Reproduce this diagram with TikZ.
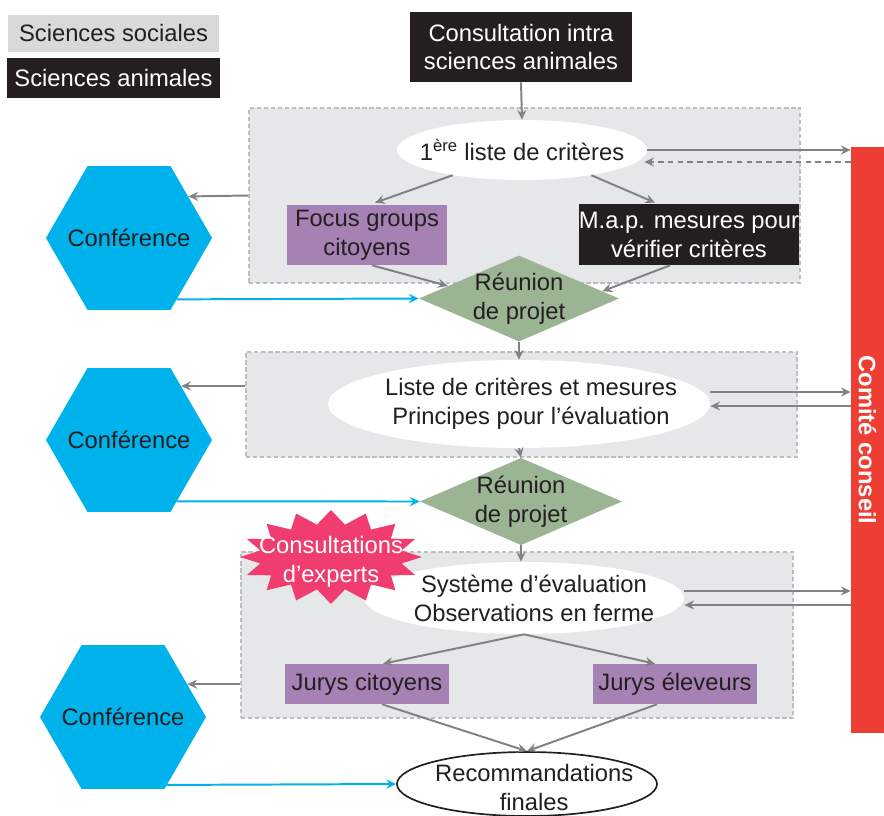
\documentclass[tikz,border=0pt]{standalone}
\usepackage{fontspec}
\setmainfont{Liberation Sans}
\usetikzlibrary{shapes.geometric,arrows.meta,calc}

\definecolor{textc}{HTML}{231F20}
\definecolor{socgray}{HTML}{D9D9DA}
\definecolor{panelfill}{HTML}{E6E7E8}
\definecolor{panelline}{HTML}{BCBEC0}
\definecolor{arrowc}{HTML}{808285}
\definecolor{purplec}{HTML}{A682B4}
\definecolor{greenc}{HTML}{9BB594}
\definecolor{cyanc}{HTML}{00B2EC}
\definecolor{redc}{HTML}{EE3E33}
\definecolor{starc}{HTML}{F03C6E}

\begin{document}
\begin{tikzpicture}[x=0.025cm,y=-0.025cm,
	every node/.style={font=\fontsize{16.9}{20.6}\selectfont, text=textc, align=center, inner sep=0pt},
	panel/.style={draw=panelline, fill=panelfill, line width=1pt, dash pattern=on 3pt off 2pt},
	blackbox/.style={fill=textc, text=white},
	purplebox/.style={fill=purplec},
	bubble/.style={ellipse, fill=white},
	meeting/.style={diamond, fill=greenc},
	conf/.style={regular polygon, regular polygon sides=6, fill=cyanc, minimum size=4.15cm, label={center:Conférence}},
	flow/.style={draw=arrowc, line width=1.4pt, -{Stealth[length=7pt,width=6.5pt,inset=2.5pt]}},
	feed/.style={draw=cyanc, line width=1.4pt, -{Stealth[length=7pt,width=6.5pt,inset=2.5pt]}}]

	\useasboundingbox (0,0) rectangle (884,816);

	% legend
	\node[fill=socgray, minimum width=5.28cm, minimum height=0.93cm] (soc) at (113.5,33.5) {Sciences sociales};
	\node[blackbox, minimum width=5.33cm, minimum height=1cm] (ani) at (113.5,78) {Sciences animales};

	\node[blackbox, minimum width=5.55cm, minimum height=1.75cm] (consult) at (521,47) {Consultation intra\\sciences animales};

	% panels
	\node[panel, minimum width=13.78cm, minimum height=4.38cm] (panelA) at (524.5,195.5) {};
	\node[panel, minimum width=13.78cm, minimum height=2.63cm] (panelB) at (521.5,404.5) {};
	\node[panel, minimum width=13.8cm, minimum height=4.15cm] (panelC) at (517,635) {};

	\node[bubble, minimum width=6.25cm, minimum height=1.5cm, label={center:1\textsuperscript{ère} liste de critères}] (listA) at (522,150) {};
	\node[bubble, minimum width=9.55cm, minimum height=2.2cm, label={[xshift=0.3cm]center:Liste de critères et mesures\\Principes pour l’évaluation}] (listB) at (519,404) {};
	\node[bubble, minimum width=8cm, minimum height=1.8cm, label={[xshift=0.25cm]center:Système d’évaluation\\Observations en ferme}] (listC) at (524,598) {};

	\node[purplebox, minimum width=4cm, minimum height=1.5cm] (focus) at (367,235) {Focus groups\\citoyens};
	\node[blackbox, minimum width=5.4cm, minimum height=1.53cm] (map) at (689,234.5) {M.a.p. mesures pour\\vérifier critères};
	\node[purplebox, minimum width=4.1cm, minimum height=1cm] (jc) at (367,684) {Jurys citoyens};
	\node[purplebox, minimum width=4.1cm, minimum height=1cm] (je) at (675,684) {Jurys éleveurs};

	\node[meeting, minimum width=5cm, minimum height=2.15cm, label={center:Réunion\\de projet}] (meetA) at (519,298.5) {};
	\node[meeting, minimum width=5.05cm, minimum height=2.18cm, label={center:Réunion\\de projet}] (meetB) at (521,501.5) {};

	\node[bubble, draw=textc, line width=1.2pt, minimum width=6.5cm, minimum height=1.6cm, label={[xshift=0.18cm,yshift=-0.08cm]center:Recommandations\\finales}] (reco) at (527,784) {};

	% experts
	\fill[starc, shift={(331,557)}] (0:91 and 47) \foreach \a in {0,22.5,...,337.5} { -- ({\a+11.25}:72 and 33) -- ({\a+22.5}:91 and 47) } -- cycle;
	\node[text=white] (experts) at (331,562) {Consultations\\d’experts};

	\node[fill=redc, text=white, minimum width=0.83cm, minimum height=14.65cm] (comite) at (867.5,440) {\rotatebox{-90}{\bfseries Comité conseil}};

	\node[conf] (confA) at (129,238) {};
	\node[conf] (confB) at (129,440) {};
	\node[conf] (confC) at (123,717) {};

	% main flow
	\draw[flow] (consult.south) -- (listA.north);
	\draw[flow] (listA.200) -- ($(focus.north)+(8,-2)$);
	\draw[flow] (listA.340) -- ($(map.north)+(-34,-1)$);
	\draw[flow] ($(focus.south)+(5,0)$) -- (meetA.170);
	\draw[flow] ($(map.south)+(-19,0)$) -- (meetA.5);
	\draw[flow] (meetA.south) -- (listB.north);
	\draw[flow] (listB.south) -- (meetB.north);
	\draw[flow] (meetB.south) -- (meetB.south |- listC.north);
	\draw[flow] (listC.south) -- ($(jc.north)+(16,0)$);
	\draw[flow] (listC.south) -- ($(je.north)+(-20,0)$);
	\draw[flow] ($(jc.south)+(15,0)$) -- (reco.north);
	\draw[flow] ($(je.south)+(-18,0)$) -- (reco.north);

	% comite conseil
	\coordinate (backA) at ($(listA.east)+(-3,12)$);
	\coordinate (outB) at ($(listB.east)+(0,-12)$);
	\coordinate (backB) at ($(listB.east)+(0,2)$);
	\coordinate (outC) at ($(listC.east)+(0,-7)$);
	\coordinate (backC) at ($(listC.east)+(0,7)$);
	\draw[flow] (listA.east) -- (listA.east -| comite.west);
	\draw[flow, dash pattern=on 4pt off 3pt] (backA -| comite.west) -- (backA);
	\draw[flow] (outB) -- (outB -| comite.west);
	\draw[flow] (backB -| comite.west) -- (backB);
	\draw[flow] (outC) -- (outC -| comite.west);
	\draw[flow] (backC -| comite.west) -- (backC);

	% conferences
	\draw[flow] (panelA.west) -- (confA.35);
	\draw[flow] (panelB.west |- confB.46) -- (confB.46);
	\draw[flow] (panelC.west |- confC.27) -- (confC.27);
	\draw[feed] (confA.-52) -- (meetA.west);
	\draw[feed] (confB.-52) -- (meetB.west);
	\draw[feed] (confC.-57) -- (reco.west);

\end{tikzpicture}
\end{document}
